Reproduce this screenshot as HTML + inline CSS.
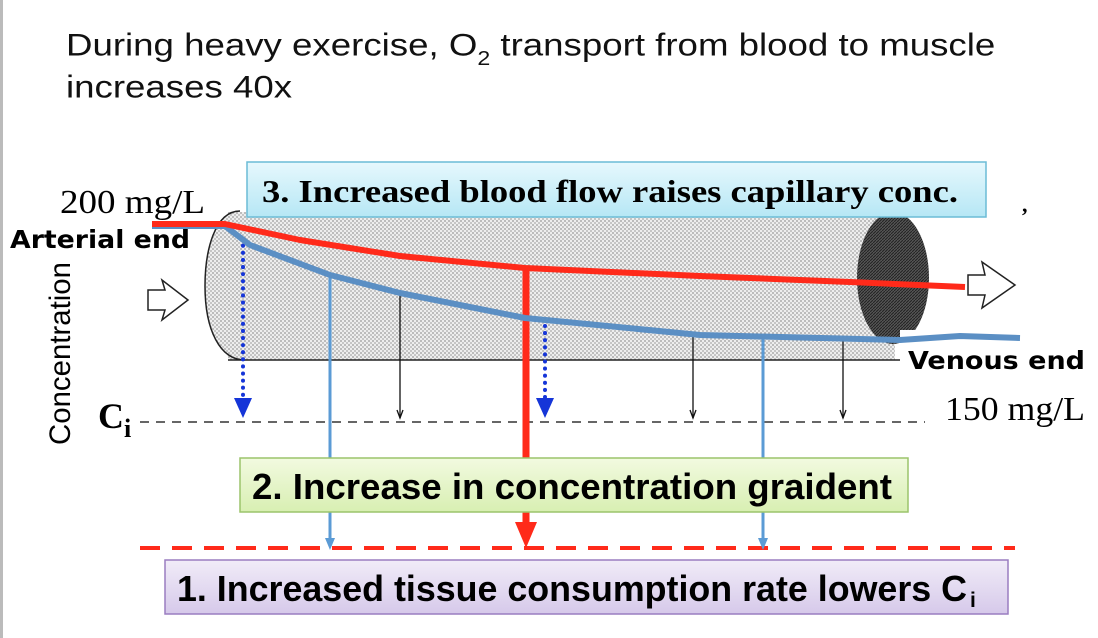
<!DOCTYPE html>
<html><head><meta charset="utf-8"><style>
html,body{margin:0;padding:0;background:#fff;}
svg{display:block;}
</style></head><body>
<svg id="chart" width="1098" height="638" viewBox="0 0 1098 638" xmlns="http://www.w3.org/2000/svg">
<defs>
<pattern id="dots" width="4" height="4" patternUnits="userSpaceOnUse"><rect width="4" height="4" fill="#eeeeee"/><circle cx="1" cy="1" r="0.9" fill="#999"/><circle cx="3" cy="3" r="0.9" fill="#aaa"/></pattern>
<pattern id="hatch" width="3" height="3" patternUnits="userSpaceOnUse"><rect width="3" height="3" fill="#555"/><path d="M0 3L3 0" stroke="#222" stroke-width="1"/></pattern>
<linearGradient id="g3" x1="0" y1="0" x2="0" y2="1"><stop offset="0" stop-color="#e6f8fd"/><stop offset="1" stop-color="#b6e7f5"/></linearGradient>
<linearGradient id="g2" x1="0" y1="0" x2="0" y2="1"><stop offset="0" stop-color="#f2fae0"/><stop offset="1" stop-color="#d8efb2"/></linearGradient>
<linearGradient id="g1" x1="0" y1="0" x2="0" y2="1"><stop offset="0" stop-color="#f1ecf8"/><stop offset="1" stop-color="#d6c9ea"/></linearGradient>
</defs>
<rect x="0" y="0" width="3" height="638" fill="#bbb"/>
<g transform="translate(66,0) scale(1.222,1.05)">
<text font-family="Liberation Sans, sans-serif" font-size="30" fill="#111"><tspan x="0" y="53">During heavy exercise, O</tspan><tspan font-size="19" dy="9">2</tspan><tspan font-size="30" dy="-9"> transport from blood to muscle</tspan><tspan x="0" y="93">increases 40x</tspan></text>
</g>

<g>
<path d="M228 212 L895 212 L895 360 L228 360 Z" fill="url(#dots)"/>
<line x1="228" y1="360" x2="905" y2="360" stroke="#222" stroke-width="1.5"/>
<path d="M240 211 C215 211 205 250 205 286 C205 330 220 360 245 360" fill="url(#dots)" stroke="#222" stroke-width="1.5"/>
<ellipse cx="893" cy="278" rx="36" ry="66" fill="url(#hatch)"/>
<rect x="900" y="330" width="40" height="34" fill="#fff"/>
</g>
<path d="M148 290 L165 290 L162 280 L188 300 L162 320 L165 310 L148 310 Z" fill="#fff" stroke="#222" stroke-width="1.5"/>
<path d="M968 275 L985 275 L982 262 L1015 285 L982 308 L985 295 L968 295 Z" fill="#fff" stroke="#222" stroke-width="1.5"/>

<g id="marks"></g>

<text x="60" y="213" font-family="Liberation Serif, serif" font-size="34" textLength="145" lengthAdjust="spacingAndGlyphs">200 mg/L</text>
<text x="10" y="248" font-family="DejaVu Sans, sans-serif" font-weight="bold" font-size="25" textLength="180" lengthAdjust="spacingAndGlyphs">Arterial end</text>
<text transform="translate(70,445) rotate(-90)" font-family="Liberation Sans, sans-serif" font-size="30" textLength="183" lengthAdjust="spacingAndGlyphs">Concentration</text>
<text x="98" y="428" font-family="Liberation Serif, serif" font-weight="bold" font-size="36">C<tspan font-size="26" dy="9">i</tspan></text>
<text x="908" y="369" font-family="DejaVu Sans, sans-serif" font-weight="bold" font-size="25" textLength="177" lengthAdjust="spacingAndGlyphs">Venous end</text>
<text x="945" y="420" font-family="Liberation Serif, serif" font-size="34" textLength="140" lengthAdjust="spacingAndGlyphs">150 mg/L</text>
<text x="1022" y="212" font-family="Liberation Serif, serif" font-weight="bold" font-size="22">,</text>

<g>
<rect x="247" y="162" width="739" height="55" fill="url(#g3)" stroke="#6bbcd6" stroke-width="1.5"/>
<text x="262" y="202" font-family="Liberation Serif, serif" font-weight="bold" font-size="32" textLength="696" lengthAdjust="spacingAndGlyphs">3. Increased blood flow raises capillary conc.</text>
</g>
<g>
<rect x="240" y="458" width="668" height="54" fill="url(#g2)" stroke="#9bc46b" stroke-width="1.5"/>
<text x="252" y="499" font-family="Liberation Sans, sans-serif" font-weight="bold" font-size="36" textLength="640" lengthAdjust="spacingAndGlyphs">2. Increase in concentration graident</text>
</g>
<g>
<rect x="165" y="560" width="843" height="54" fill="url(#g1)" stroke="#9a7dc0" stroke-width="1.5"/>
<text x="177" y="601" font-family="Liberation Sans, sans-serif" font-weight="bold" font-size="36" textLength="790" lengthAdjust="spacingAndGlyphs">1. Increased tissue consumption rate lowers C</text>
<text x="970" y="607" font-family="Liberation Sans, sans-serif" font-weight="bold" font-size="21">i</text>
</g>
</svg>
<script>
const redX=[152,225,300,400,525,700,850,965];
const redY=[224,224,240,256,268,276,282,287];
const blueX=[152,225,250,330,400,525,700,900,960,1020];
const blueY=[226,226,245,275,293,318,335,340,336,338];
const blackArrowX=[400,693,843];
const dottedArrowX=[243,545];
const gradientBlueX=[330,763];
const gradientRedX=[526];
const ciY=422, newCiY=548;
const NS='http://www.w3.org/2000/svg';
const g=document.getElementById('marks');
function mk(t,a){const e=document.createElementNS(NS,t);for(const k in a)e.setAttribute(k,a[k]);g.appendChild(e);return e;}
function interp(xs,ys,x){for(let i=0;i<xs.length-1;i++){if(x>=xs[i]&&x<=xs[i+1]){return ys[i]+(ys[i+1]-ys[i])*(x-xs[i])/(xs[i+1]-xs[i]);}}return ys[ys.length-1];}
function pathOf(xs,ys){return xs.map((x,i)=>(i?'L':'M')+x+' '+ys[i]).join(' ');}
function head(x,tipY,w,h,fill){return mk('polygon',{points:(x-w/2)+','+(tipY-h)+' '+(x+w/2)+','+(tipY-h)+' '+x+','+tipY,fill:fill});}
let e;
e=mk('line',{x1:140,y1:ciY,x2:925,y2:ciY,stroke:'#333','stroke-width':1.5,'stroke-dasharray':'9 7'});


blackArrowX.forEach(x=>{const l=mk('line',{x1:x,y1:interp(blueX,blueY,x)+2,x2:x,y2:ciY-4,stroke:'#111','stroke-width':1.3});


const p=mk('polyline',{points:(x-3)+','+(ciY-12)+' '+x+','+(ciY-4)+' '+(x+3)+','+(ciY-12),fill:'none',stroke:'#111','stroke-width':1.3});

});
dottedArrowX.forEach(x=>{const l=mk('line',{x1:x,y1:interp(blueX,blueY,x)+6,x2:x,y2:ciY-22,stroke:'#1535d8','stroke-width':4,'stroke-dasharray':'0.1 7','stroke-linecap':'round'});


const p=head(x,ciY-4,18,20,'#1535d8');

});
e=mk('line',{x1:140,y1:newCiY,x2:1015,y2:newCiY,stroke:'#ff2a1a','stroke-width':4,'stroke-dasharray':'20 12'});


gradientBlueX.forEach(x=>{const l=mk('line',{x1:x,y1:interp(blueX,blueY,x),x2:x,y2:newCiY-8,stroke:'#5b9bd5','stroke-width':3});


const p=head(x,newCiY+2,10,12,'#5b9bd5');

});
gradientRedX.forEach(x=>{const l=mk('line',{x1:x,y1:interp(redX,redY,x),x2:x,y2:newCiY-22,stroke:'#ff2a1a','stroke-width':7});


const p=head(x,newCiY,22,26,'#ff2a1a');

});
e=mk('path',{d:pathOf(blueX,blueY),fill:'none',stroke:'#5b8fc4','stroke-width':6,'stroke-linejoin':'round'});


e=mk('path',{d:pathOf(redX,redY),fill:'none',stroke:'#ff2a1a','stroke-width':6,'stroke-linejoin':'round'});


</script>
</body></html>
